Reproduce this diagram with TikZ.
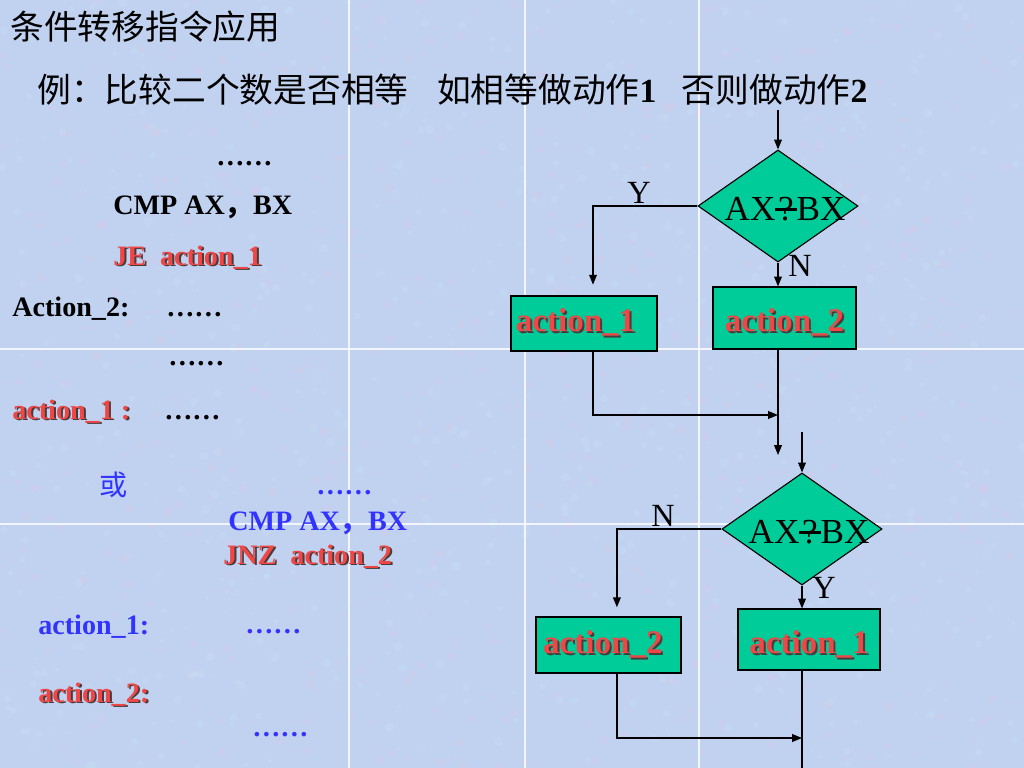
\documentclass[tikz,border=0pt]{standalone}
\usepackage{fontspec}
\setmainfont{Liberation Serif}
\newfontfamily\cjk{Noto Sans CJK SC}
\usetikzlibrary{shapes.geometric,arrows.meta}
\definecolor{bgblue}{RGB}{192,210,240}
\definecolor{bgpink}{RGB}{222,198,232}
\definecolor{bglight}{RGB}{200,226,246}
\definecolor{boxgreen}{RGB}{0,204,153}
\definecolor{actred}{RGB}{240,70,70}
\definecolor{shade}{RGB}{70,60,60}
\definecolor{codeblue}{RGB}{51,51,255}
\newcommand\shadowed[1]{\rlap{\kern1.4pt\raisebox{-1.4pt}{\color{shade}#1}}{\color{actred}#1}}
\newcommand\qeq{\ooalign{\hfil?\hfil\cr\hfil\rule[0.27em]{0.6em}{0.06em}\hfil\cr}}
\newcommand\cmptext{\makebox[0pt]{\kern10pt\smash{\raisebox{-0.4em}{AX\qeq BX}}}}
\newcommand\lowered[1]{\raisebox{-4pt}[\height][\depth]{#1}}
\begin{document}
\begin{tikzpicture}[x=0.025cm, y=-0.025cm,
  dec/.style={diamond, draw=black, fill=boxgreen, line width=0.8pt, minimum width=4cm, minimum height=2.8cm, inner sep=0pt, font=\fontsize{25}{28}\selectfont},
  act/.style={rectangle, draw=black, fill=boxgreen, line width=0.8pt, inner sep=0pt, font=\fontsize{23.5}{26}\selectfont\bfseries},
  flow/.style={draw=black, line width=0.9pt, -{Triangle[length=7pt,width=5.5pt]}},
  lbl/.style={inner sep=0pt, font=\fontsize{23}{26}\selectfont},
  code/.style={anchor=base west, inner sep=0pt, font=\fontsize{20}{24}\selectfont\bfseries},
  seam/.style={draw=white, line width=0.8pt, opacity=0.8}]
\useasboundingbox (0,0) rectangle (1024,768);
% background
\fill[bgblue] (0,0) rectangle (1024,768);
\pgfmathsetseed{7}
\foreach \i in {1,...,700} {
  \fill[bgpink, opacity=0.3] (1024*rnd,768*rnd) circle (1.5+3*rnd);
  \fill[bglight, opacity=0.3] (1024*rnd,768*rnd) circle (1.5+3*rnd);
}
\foreach \sx in {349,525,699} \draw[seam] (\sx,0) -- (\sx,768);
\foreach \sy in {349,524} \draw[seam] (0,\sy) -- (1024,\sy);

% headings
\node[anchor=west, inner sep=0pt, font=\cjk\fontsize{24}{28}\selectfont] (title) at (10,27) {条件转移指令应用};
\node[anchor=west, inner sep=0pt, font=\fontsize{24}{28}\selectfont] (task) at (37,90) {{\cjk 例：比较二个数是否相等}\hspace{0.85em}{\cjk 如相等做动作}\textbf{1}\hspace{0.75em}{\cjk 否则做动作}\textbf{2}};

% program, JE version
\node[code] (dots1) at (216,165) {……};
\node[code] (cmp1) at (113,214) {CMP AX{\cjk ，}BX};
\node[code] (je) at (113,265) {\shadowed{JE\ \ action\_1}};
\node[code] (lab2) at (12,316) {Action\_2:};
\node[code] (dots2) at (166,316) {……};
\node[code] (dots3) at (168,365) {……};
\node[code] (lab1) at (12,419) {\shadowed{action\_1 :}};
\node[code] (dots4) at (164,419) {……};

% program, JNZ version
\node[code, text=codeblue, font=\cjk\fontsize{20}{24}\selectfont] (or) at (99,495) {或};
\node[code, text=codeblue] (dots5) at (316,494) {……};
\node[code, text=codeblue] (cmp2) at (228,530) {CMP AX{\cjk ，}BX};
\node[code] (jnz) at (223,564) {\shadowed{JNZ\ \ action\_2}};
\node[code, text=codeblue] (lab3) at (38,634) {action\_1:};
\node[code, text=codeblue] (dots6) at (245,633) {……};
\node[code] (lab4) at (38,702) {\shadowed{action\_2:}};
\node[code, text=codeblue] (dots7) at (252,736) {……};

% flowchart 1
\node[dec] (d1) at (778,206) {\cmptext};
\node[act, minimum width=3.65cm, minimum height=1.375cm] (up1) at (584,323.5) {\hspace*{-12pt}\shadowed{action\_1}};
\node[act, minimum width=3.575cm, minimum height=1.55cm] (up2) at (784.5,318) {\lowered{\shadowed{action\_2}}};
\node[lbl] (y1) at (639,193) {Y};
\node[lbl] (n1) at (800,266) {N};
\coordinate (in1) at (778,110);
\coordinate (m1) at (778,415);
\coordinate (j1) at (778,455);
\draw[flow] (in1) -- (d1.north);
\draw[flow, shorten >=0.27cm] (d1.west) -| ([xshift=0.225cm]up1.north);
\draw[flow] (d1.south) -- (d1.south |- up2.north);
\draw[flow] ([xshift=0.225cm]up1.south) |- (m1);
\draw[flow] (d1.south |- up2.south) -- (j1);

% flowchart 2
\node[dec] (d2) at (802,529) {\cmptext};
\node[act, minimum width=3.625cm, minimum height=1.4cm] (lo2) at (608.5,645) {\hspace*{-8pt}\shadowed{action\_2}};
\node[act, minimum width=3.55cm, minimum height=1.525cm] (lo1) at (809,639.5) {\lowered{\shadowed{action\_1}}};
\node[lbl] (n2) at (663,516) {N};
\node[lbl] (y2) at (824,588) {Y};
\coordinate (in2) at (802,432);
\coordinate (m2) at (802,738);
\coordinate (out2) at (802,768);
\draw[flow] (in2) -- (d2.north);
\draw[flow, shorten >=0.23cm] (d2.west) -| ([xshift=0.21cm]lo2.north);
\draw[flow] (d2.south) -- (d2.south |- lo1.north);
\draw[flow] ([xshift=0.21cm]lo2.south) |- (m2);
\draw[line width=0.9pt] (d2.south |- lo1.south) -- (out2);
\end{tikzpicture}
\end{document}
